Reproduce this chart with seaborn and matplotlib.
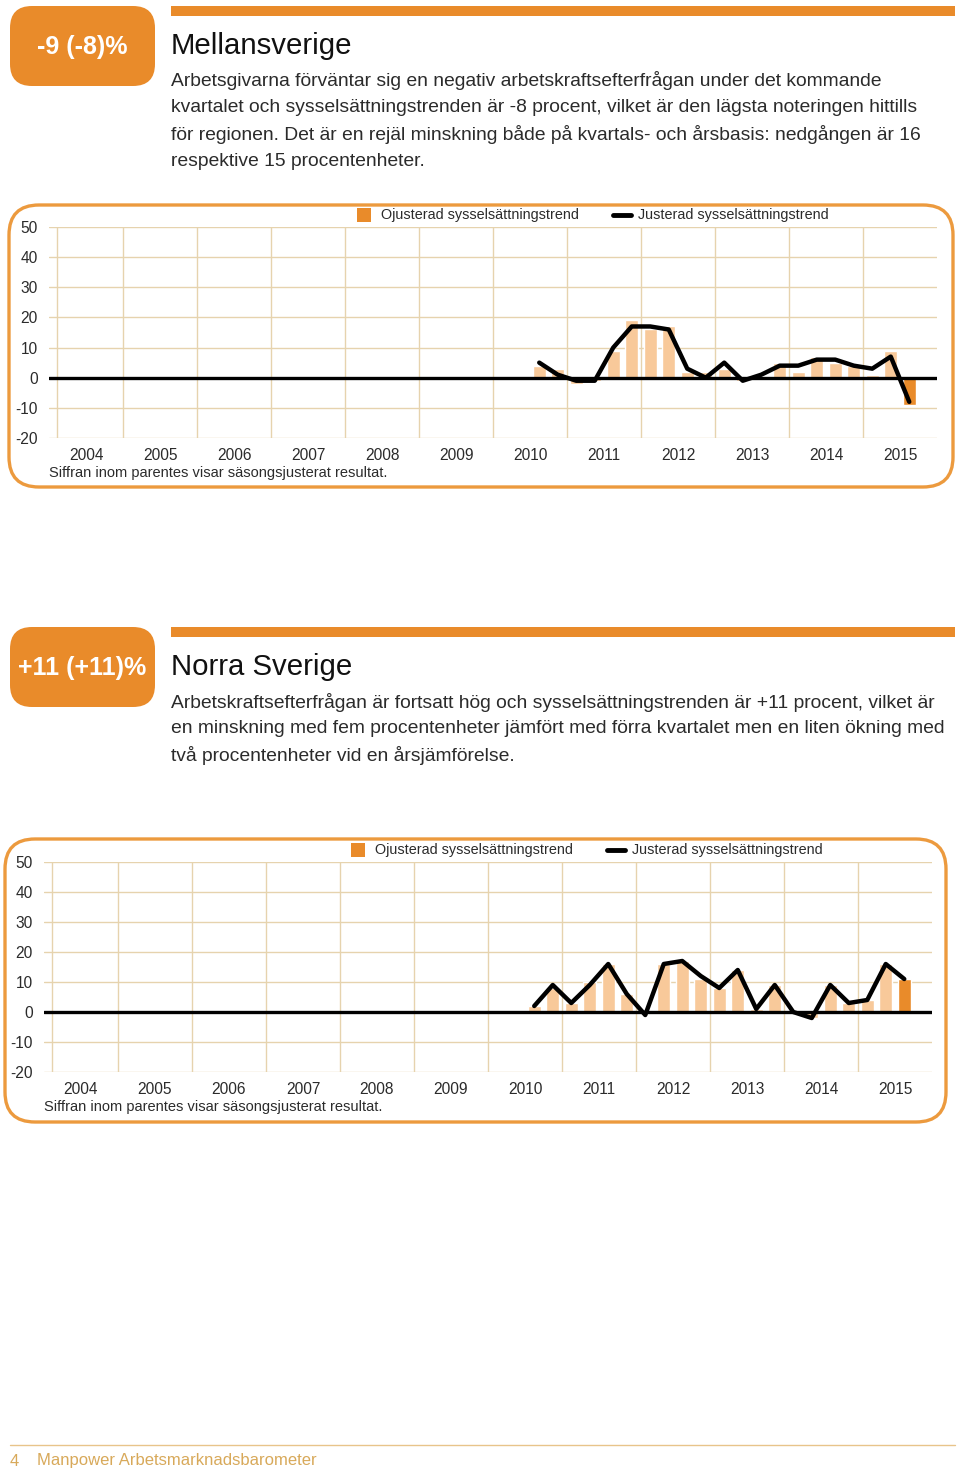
import numpy as np
import pandas as pd
import matplotlib
matplotlib.use("Agg")
import matplotlib.pyplot as plt
from matplotlib.patches import FancyBboxPatch, Rectangle
import seaborn as sns

# quarters 2010 Q3 .. 2015 Q3
quarters = [(2010, 3), (2010, 4),
            (2011, 1), (2011, 2), (2011, 3), (2011, 4),
            (2012, 1), (2012, 2), (2012, 3), (2012, 4),
            (2013, 1), (2013, 2), (2013, 3), (2013, 4),
            (2014, 1), (2014, 2), (2014, 3), (2014, 4),
            (2015, 1), (2015, 2), (2015, 3)]
years = list(range(2004, 2016))

# Mellansverige
mellan_ojust = [4, 3, -2, -1, 9, 19, 16, 17, 2, 2, 3, -1, 0, 5, 2, 7, 5, 4, 1, 9, -9]
mellan_just = [5, 1, -1, -1, 10, 17, 17, 16, 3, 0, 5, -1, 1, 4, 4, 6, 6, 4, 3, 7, -8]

# Norra Sverige
norra_ojust = [2, 8, 3, 10, 16, 6, 0, 16, 17, 11, 8, 14, 1, 9, 0, -2, 9, 3, 4, 16, 11]
norra_just = [2, 9, 3, 9, 16, 6, -1, 16, 17, 12, 8, 14, 1, 9, 0, -2, 9, 3, 4, 16, 11]

ORANGE = "#E98B2A"
LIGHT = "#F8C99A"
GRID = "#E6D3AE"
BOX = "#EC9A3E"
TXT = "#2b2b2b"
FOOT = "#D8A95A"

sns.set_style("white")
plt.rcParams["font.family"] = ["Liberation Sans", "DejaVu Sans"]
plt.rcParams["axes.unicode_minus"] = False

fig = plt.figure(figsize=(9.6, 14.72), dpi=100)
bg = fig.add_axes([0, 0, 1, 1], zorder=0)
bg.set_xlim(0, 960)
bg.set_ylim(1472, 0)
bg.axis("off")


def section(top, badge, title, lines):
    bg.add_patch(FancyBboxPatch((10, top + 6), 145, 80,
                                boxstyle="round,pad=0,rounding_size=22",
                                fc=ORANGE, ec="none"))
    bg.text(82, top + 47, badge, color="white", fontsize=18, fontweight="bold",
            ha="center", va="center")
    bg.add_patch(Rectangle((171, top + 6), 784, 10, fc=ORANGE, ec="none"))
    bg.text(171, top + 46, title, color="#111111", fontsize=21.2, va="center")
    for i, s in enumerate(lines):
        bg.text(171, top + 81 + i * 26.7, s, color=TXT, fontsize=13.85, va="center")


def chart(box, axpix, legpos, ojust, just):
    bx0, by0, bx1, by1 = box
    bg.add_patch(FancyBboxPatch((bx0, by0), bx1 - bx0, by1 - by0,
                                boxstyle="round,pad=0,rounding_size=30",
                                fc="none", ec=BOX, lw=2.4))
    ax0, ay0, ax1, ay1 = axpix
    ax = fig.add_axes([ax0 / 960, 1 - ay1 / 1472, (ax1 - ax0) / 960, (ay1 - ay0) / 1472],
                      zorder=2)
    ax.patch.set_alpha(0)

    df = pd.DataFrame({"x": [y + (q - 0.5) / 4 for y, q in quarters],
                       "ojust": ojust, "just": just})
    for v in range(-20, 60, 10):
        if v != 0:
            ax.axhline(v, color=GRID, lw=1, zorder=0)
    for y in years[1:]:
        ax.axvline(y, color=GRID, lw=1, zorder=0)
    ax.axvline(2004.11, color=GRID, lw=1, zorder=0)

    sns.barplot(data=df, x="x", y="ojust", native_scale=True, width=0.72,
                color=LIGHT, saturation=1, errorbar=None, ax=ax, zorder=2)
    ax.patches[-1].set_facecolor(ORANGE)
    ax.axhline(0, color="black", lw=2.4, zorder=3)
    sns.lineplot(data=df, x="x", y="just", color="black", lw=3.2, ax=ax, zorder=4)

    ax.set_xlim(2004, 2016)
    ax.set_ylim(-20, 50)
    ax.set_xticks([y + 0.5 for y in years])
    ax.set_xticklabels([str(y) for y in years])
    ax.set_yticks(range(-20, 60, 10))
    ax.tick_params(length=0, labelsize=11.2, labelcolor=TXT, pad=8)
    ax.tick_params(axis="x", pad=7)
    ax.set_xlabel("")
    ax.set_ylabel("")
    sns.despine(ax=ax, left=True, bottom=True)

    lx, ly = legpos
    bg.add_patch(Rectangle((lx, ly - 7), 14, 14, fc=ORANGE, ec="none"))
    bg.text(lx + 24, ly, "Ojusterad sysselsättningstrend", fontsize=10.4,
            color=TXT, va="center")
    bg.plot([lx + 256, lx + 274], [ly, ly], color="black", lw=3.5,
            solid_capstyle="round")
    bg.text(lx + 281, ly, "Justerad sysselsättningstrend", fontsize=10.4,
            color=TXT, va="center")
    bg.text(ax0, ay1 + 35, "Siffran inom parentes visar säsongsjusterat resultat.",
            fontsize=10.55, color=TXT, va="center")


section(0, "-9 (-8)%", "Mellansverige", [
    "Arbetsgivarna förväntar sig en negativ arbetskraftsefterfrågan under det kommande",
    "kvartalet och sysselsättningstrenden är -8 procent, vilket är den lägsta noteringen hittills",
    "för regionen. Det är en rejäl minskning både på kvartals- och årsbasis: nedgången är 16",
    "respektive 15 procentenheter.",
])
chart((9, 205, 953, 487), (49, 227, 937, 438), (357, 215), mellan_ojust, mellan_just)

section(621, "+11 (+11)%", "Norra Sverige", [
    "Arbetskraftsefterfrågan är fortsatt hög och sysselsättningstrenden är +11 procent, vilket är",
    "en minskning med fem procentenheter jämfört med förra kvartalet men en liten ökning med",
    "två procentenheter vid en årsjämförelse.",
])
chart((5, 839, 946, 1122), (44, 862, 932, 1072), (351, 850), norra_ojust, norra_just)

# footer
bg.plot([10, 955], [1445, 1445], color="#E8C48A", lw=1)
bg.text(10, 1461, "4", fontsize=12, color=FOOT, va="center")
bg.text(37, 1461, "Manpower Arbetsmarknadsbarometer", fontsize=12, color=FOOT,
        va="center")

fig.savefig("out.png", dpi=100)
